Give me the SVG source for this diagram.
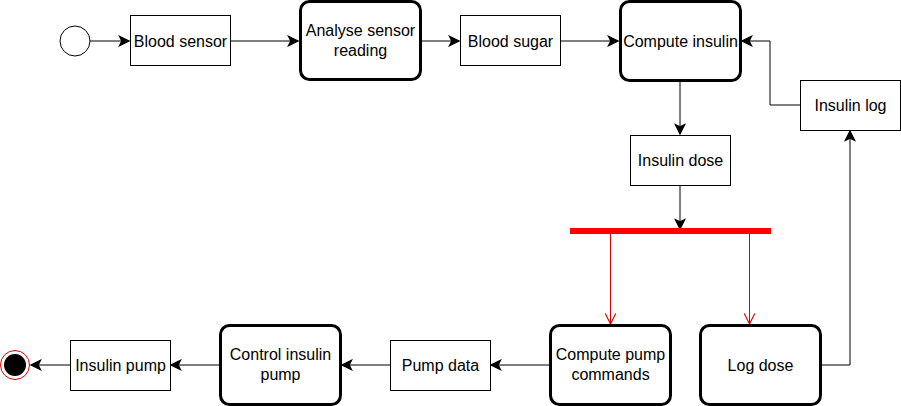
<svg xmlns="http://www.w3.org/2000/svg" width="901" height="406" viewBox="0 0 901 406">
<style>
.box{fill:#fff;stroke:#000;stroke-width:1}
.act{fill:#fff;stroke:#000;stroke-width:3}
text{font-family:"Liberation Sans",Arial,sans-serif;font-size:16px;fill:#000;text-anchor:middle}
.c{fill:none;stroke:#000;stroke-width:1}
.r{fill:none;stroke:#e00000;stroke-width:1}
</style>
<defs>
<marker id="ah" markerUnits="userSpaceOnUse" markerWidth="12" markerHeight="12" viewBox="-9 -5 10 10" refX="0" refY="0" orient="auto">
<path d="M-8,-4 L0,0 L-8,4 L-6,0 z" fill="#000" stroke="#000" stroke-width="1"/>
</marker>
<marker id="rh" markerUnits="userSpaceOnUse" markerWidth="14" markerHeight="14" viewBox="-10 -6 12 12" refX="0" refY="0" orient="auto">
<path d="M-9,-4.5 L0,0 L-9,4.5" fill="none" stroke="#e00000" stroke-width="1"/>
</marker>
</defs>
<g id="connectors">
<line class="c" x1="90" y1="41" x2="129" y2="41" marker-end="url(#ah)"/>
<line class="c" x1="230" y1="41" x2="298" y2="41" marker-end="url(#ah)"/>
<line class="c" x1="421" y1="41" x2="459" y2="41" marker-end="url(#ah)"/>
<line class="c" x1="560" y1="41" x2="618" y2="41" marker-end="url(#ah)"/>
<line class="c" x1="680" y1="81" x2="680" y2="134" marker-end="url(#ah)"/>
<polyline class="c" points="800,105 770,105 770,41 742,41" marker-end="url(#ah)"/>
<line class="c" x1="680" y1="185" x2="680" y2="229" marker-end="url(#ah)"/>
<line class="r" x1="610.5" y1="233" x2="610.5" y2="324" marker-end="url(#rh)"/>
<line class="r" x1="749.5" y1="233" x2="749.5" y2="324" marker-end="url(#rh)"/>
<polyline class="c" points="821,365 850,365 850,131" marker-end="url(#ah)"/>
<line class="c" x1="549" y1="365" x2="491" y2="365" marker-end="url(#ah)"/>
<line class="c" x1="390" y1="365" x2="342" y2="365" marker-end="url(#ah)"/>
<line class="c" x1="219" y1="365" x2="171" y2="365" marker-end="url(#ah)"/>
<line class="c" x1="70" y1="365" x2="31" y2="365" marker-end="url(#ah)"/>
</g>
<g id="start"><circle cx="75" cy="41" r="15" fill="#fff" stroke="#000" stroke-width="1"/></g>
<g id="blood-sensor"><rect class="box" x="130.5" y="15.5" width="100" height="50"/><text x="180.5" y="46.5">Blood sensor</text></g>
<g id="analyse"><rect class="act" x="300.5" y="1.5" width="120" height="78" rx="9"/><text x="360.5" y="36">Analyse sensor</text><text x="360.5" y="56">reading</text></g>
<g id="blood-sugar"><rect class="box" x="460.5" y="15.5" width="100" height="50"/><text x="510.5" y="46.5">Blood sugar</text></g>
<g id="compute-insulin"><rect class="act" x="620.5" y="1.5" width="120" height="79" rx="9"/><text x="680.5" y="46.5">Compute insulin</text></g>
<g id="insulin-log"><rect class="box" x="800.5" y="80.5" width="100" height="50"/><text x="850.5" y="111">Insulin log</text></g>
<g id="insulin-dose"><rect class="box" x="630.5" y="135.5" width="100" height="50"/><text x="680.5" y="166">Insulin dose</text></g>
<g id="fork"><rect x="570" y="228" width="201" height="6" fill="#f00"/></g>
<g id="compute-pump"><rect class="act" x="550.5" y="325.5" width="120" height="79" rx="9"/><text x="610.5" y="360">Compute pump</text><text x="610.5" y="380">commands</text></g>
<g id="log-dose"><rect class="act" x="700.5" y="325.5" width="120" height="79" rx="9"/><text x="760.5" y="370.5">Log dose</text></g>
<g id="pump-data"><rect class="box" x="390.5" y="340.5" width="100" height="50"/><text x="440.5" y="371">Pump data</text></g>
<g id="control-pump"><rect class="act" x="220.5" y="325.5" width="120" height="79" rx="9"/><text x="280.5" y="360">Control insulin</text><text x="280.5" y="380">pump</text></g>
<g id="insulin-pump"><rect class="box" x="70.5" y="340.5" width="100" height="50"/><text x="120.5" y="371">Insulin pump</text></g>
<g id="end"><circle cx="15" cy="365" r="14.5" fill="#fff" stroke="#e00000" stroke-width="1"/><circle cx="15" cy="365" r="11" fill="#000"/></g>
</svg>
